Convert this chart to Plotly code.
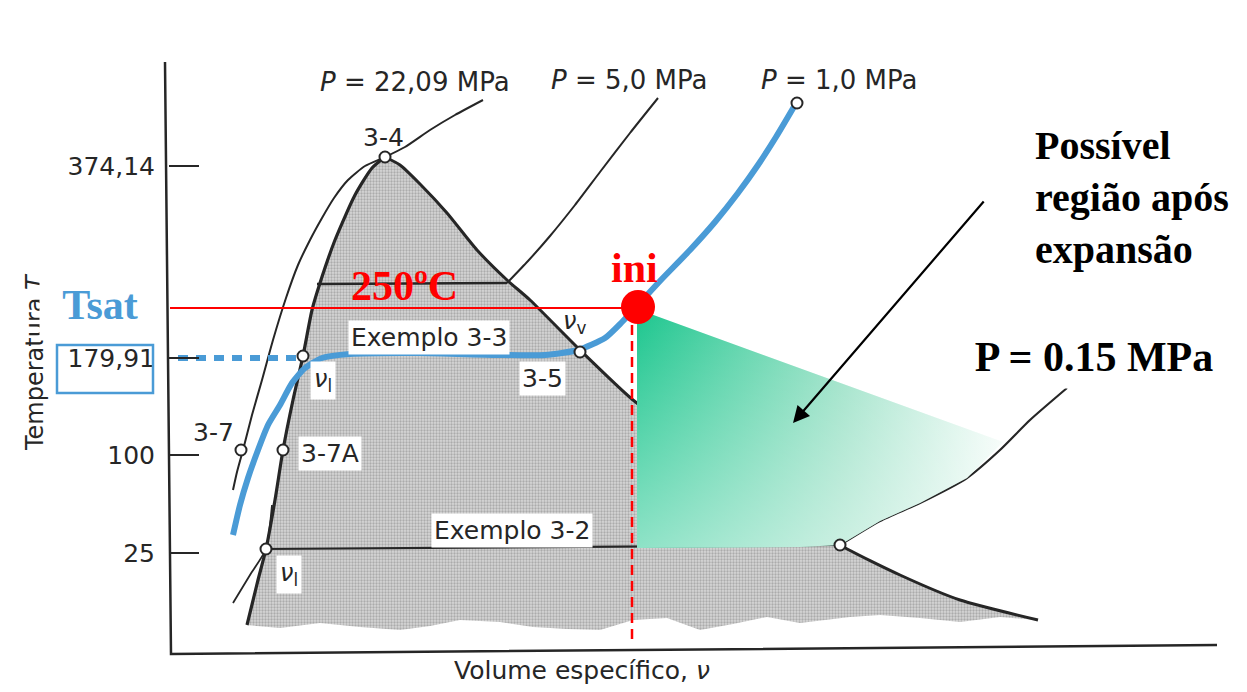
import plotly.graph_objects as go

W, H = 1247, 692

# ---------------- data (schematic diagram units: v to the right, T downward-index) -------------
t_tick_pos = [166, 358, 455, 553]
t_tick_labels = ["374,14", "179,91", "100", "25"]

# saturated liquid line
liq_v = [247, 258, 266, 275, 283, 293, 303, 312, 320, 335, 355, 372, 385]
liq_T = [625, 580, 549, 500, 450, 400, 356, 310, 283, 240, 195, 168, 157]
# saturated vapour line
vap_v = [385, 400, 420, 447, 477, 507, 530, 580, 633, 700, 770, 840, 900, 960, 1038]
vap_T = [157, 165, 184, 213, 250, 280, 300, 350, 400, 448, 497, 545, 575, 600, 620]
# ragged lower edge of the shaded wet region
bot_v = [1038, 1000, 960, 920, 880, 850, 800, 767, 733, 700, 667, 633, 600, 567, 533, 500, 460, 430, 400, 360, 320, 280, 247]
bot_T = [620, 617, 622, 618, 615, 617, 623, 617, 624, 630, 618, 620, 630, 629, 627, 622, 620, 626, 630, 627, 623, 628, 625]

# isobars
p22_v = [483, 455, 430, 405, 385, 365, 348, 334, 322, 310, 298, 286, 273, 262, 252, 243, 237, 233]
p22_T = [100, 115, 130, 147, 157, 166, 180, 198, 218, 240, 265, 298, 340, 380, 415, 450, 472, 490]
p5_v = [658, 630, 600, 575, 550, 528, 507]
p5_T = [98, 133, 172, 205, 236, 261, 283]
p5_wet_v = [317, 507]
p5_wet_T = [284, 283]
p1_v = [233, 240, 248, 258, 268, 280, 292, 305, 322, 350, 420, 500, 545, 578, 605, 622, 637,
        660, 690, 715, 738, 758, 776, 795]
p1_T = [535, 505, 478, 450, 425, 405, 383, 368, 358, 354, 353, 355, 355, 350, 338, 322, 306,
        281, 250, 222, 193, 165, 137, 105]
low_v = [233, 250, 266, 272]
low_T = [603, 575, 549, 505]
iso_hi_v = [840, 880, 920, 967, 1000, 1030, 1067]
iso_hi_T = [545, 521, 503, 478, 450, 420, 388]
line25_v = [266, 840]
line25_T = [549, 545]

# states
state_v = [385, 797, 303, 580, 241, 283, 266, 840]
state_T = [157, 103, 356, 352, 450, 450, 549, 545]

# initial state and expansion
ini_v, ini_T = 638, 307
tsat_T = 358
region_v = [637, 1003, 967, 920, 880, 840, 800, 637]
region_T = [309, 442, 478, 503, 521, 545, 547, 548]

# frame
frame_v = [165, 171, 1217]
frame_T = [62, 654, 645]

INK = "#262626"
BLUE = "#4a9bd6"
RED = "#ff0000"
SANS = "DejaVu Sans"
SERIF = "Liberation Serif"

fig = go.Figure()

def line(x, y, color=INK, width=2, dash=None, shape="spline", smoothing=0.6):
    fig.add_trace(go.Scatter(x=x, y=y, mode="lines", hoverinfo="skip",
                             line=dict(color=color, width=width, dash=dash, shape=shape,
                                       smoothing=smoothing)))

# shaded wet region (halftone)
dome_v = liq_v + vap_v[1:] + bot_v[1:]
dome_T = liq_T + vap_T[1:] + bot_T[1:]
fig.add_trace(go.Scatter(x=dome_v, y=dome_T, mode="lines", fill="toself", hoverinfo="skip",
                         line=dict(width=0, color="rgba(0,0,0,0)"),
                         fillcolor="#c2c2c2",
                         fillpattern=dict(shape=".", fgcolor="#808080", bgcolor="#d6d6d6",
                                          size=3, solidity=0.45)))

# frame
line(frame_v, frame_T, width=2.5, shape="linear")

# curves
line(p22_v, p22_T, width=2)
line(p5_v, p5_T, width=2)
line(p5_wet_v, p5_wet_T, width=2.4, shape="linear")
line(low_v, low_T, width=1.8)
line(iso_hi_v, iso_hi_T, width=2.2)
line(line25_v, line25_T, width=2.2, shape="linear")
line(liq_v, liq_T, width=3.2)
line(vap_v, vap_T, width=3.0)

# expansion region (gradient)
fig.add_trace(go.Scatter(x=region_v, y=region_T, mode="lines", fill="toself", hoverinfo="skip",
                         line=dict(width=0, color="rgba(0,0,0,0)"),
                         fillgradient=dict(type="horizontal", start=637, stop=1005,
                                           colorscale=[[0, "rgb(28,198,142)"],
                                                       [0.55, "rgb(150,224,196)"],
                                                       [1, "rgb(245,252,249)"]])))
fig.add_trace(go.Scatter(x=region_v, y=region_T, mode="lines", fill="toself", hoverinfo="skip",
                         line=dict(width=0, color="rgba(0,0,0,0)"),
                         fillgradient=dict(type="vertical", start=309, stop=548,
                                           colorscale=[[0, "rgba(255,255,255,0)"],
                                                       [1, "rgba(255,255,255,0.5)"]])))

# red reference lines
line([170, ini_v], [ini_T + 1, ini_T + 1], color=RED, width=2, shape="linear")
line([632, 632], [325, 640], color=RED, width=2.5, dash="10px,6px", shape="linear")

# Tsat dotted guide and path
line([178, 300], [tsat_T, tsat_T], color=BLUE, width=6, dash="10px,8px", shape="linear")
line(p1_v, p1_T, color=BLUE, width=6)

# state circles
fig.add_trace(go.Scatter(x=state_v, y=state_T, mode="markers", hoverinfo="skip",
                         marker=dict(size=11, color="white", line=dict(color=INK, width=2))))
# initial state
fig.add_trace(go.Scatter(x=[ini_v], y=[ini_T], mode="markers", hoverinfo="skip",
                         marker=dict(size=34, color=RED, line=dict(width=0))))

# blue box round 179,91
fig.add_shape(type="rect", x0=57, x1=153, y0=345, y1=393, xref="x", yref="y",
              line=dict(color=BLUE, width=2.5), layer="above")

def txt(x, y, s, size=25, color=INK, family=SANS, bg=None, xanchor="center", **kw):
    fig.add_annotation(x=x, y=y, text=s, showarrow=False, xref="x", yref="y",
                       font=dict(size=size, color=color, family=family),
                       bgcolor=bg, xanchor=xanchor, yanchor="middle", **kw)

txt(415, 82, "<i>P</i> = 22,09 MPa", size=26)
txt(629, 80, "<i>P</i> = 5,0 MPa", size=26)
txt(839, 80, "<i>P</i> = 1,0 MPa", size=26)
txt(383, 137, "3-4")
txt(429, 337, "Exemplo 3-3", bg="white", borderpad=2)
txt(542, 378, "3-5", bg="white", borderpad=2)
txt(574, 322, "<i>ν</i><sub>v</sub>", size=24)
txt(323, 380, "<i>ν</i><sub>l</sub>", size=24, bg="white", borderpad=3)
txt(213, 432, "3-7")
txt(330, 453, "3-7A", bg="white", borderpad=2)
txt(512, 530, "Exemplo 3-2", bg="white", borderpad=2)
txt(289, 574, "<i>ν</i><sub>l</sub>", size=24, bg="white", borderpad=3)
txt(582, 670, "Volume específico, <i>ν</i>")
fig.add_annotation(x=35, y=362, text="Temperatura <i>T</i>", showarrow=False, xref="x", yref="y",
                   textangle=-90, font=dict(size=24, color=INK, family=SANS))

# overlay labels
fig.add_annotation(x=100, y=305, text="<b>Tsat</b>", showarrow=False, xref="x", yref="y",
                   font=dict(size=42, color=BLUE, family=SERIF), bgcolor="white",
                   width=118, height=68)
txt(404, 286, "<b>250ºC</b>", size=42, color=RED, family=SERIF)
txt(634, 268, "<b>ini</b>", size=42, color=RED, family=SERIF)
fig.add_annotation(x=1141, y=197, text="<b>Possível<br>região após<br>expansão</b>", showarrow=False,
                   xref="x", yref="y", align="left", font=dict(size=40, color="black", family=SERIF),
                   bgcolor="white", width=212, height=156)
fig.add_annotation(x=1094, y=357, text="<b>P = 0.15 MPa</b>", showarrow=False,
                   xref="x", yref="y", font=dict(size=42, color="black", family=SERIF),
                   bgcolor="white", width=270, height=60)
fig.add_annotation(x=793, y=423, ax=985, ay=200, axref="x", ayref="y", xref="x", yref="y",
                   text="", showarrow=True, arrowhead=2, arrowsize=1.5, arrowwidth=2.2,
                   arrowcolor="black")

fig.update_layout(
    width=W, height=H, margin=dict(l=0, r=0, t=0, b=0),
    paper_bgcolor="white", plot_bgcolor="white", showlegend=False,
    xaxis=dict(range=[0, W], visible=False, fixedrange=True),
    yaxis=dict(range=[H, 0], showgrid=False, zeroline=False, showline=False,
               anchor="free", position=168 / W, side="left",
               ticks="inside", ticklen=30, tickwidth=2.2, tickcolor=INK,
               tickvals=t_tick_pos, ticktext=t_tick_labels, ticklabelstandoff=13,
               tickfont=dict(size=25, color=INK, family=SANS), fixedrange=True),
)

fig.write_html("out.html", config={"displayModeBar": False},
               post_script="document.body.style.margin='0';")
